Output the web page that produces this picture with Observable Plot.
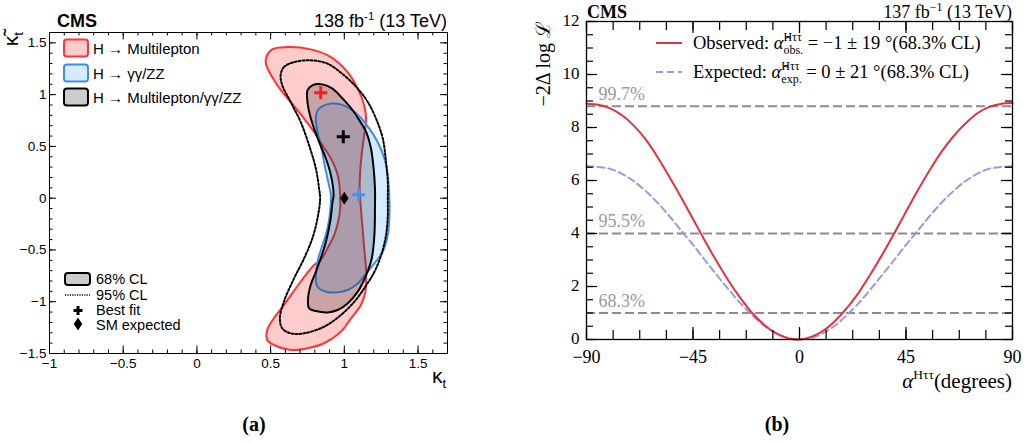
<!DOCTYPE html>
<html><head><meta charset="utf-8">
<script src="https://cdn.jsdelivr.net/npm/d3@7"></script>
<script src="https://cdn.jsdelivr.net/npm/@observablehq/plot@0.6"></script>
<style>
html,body{margin:0;padding:0;background:#fff;}
#wrap{position:relative;width:1025px;height:442px;overflow:hidden;background:#fff;}
#wrap > svg.panel{position:absolute;top:0;}
</style></head>
<body><div id="wrap"></div>
<script>
// ---------------- DATA: panel (a) ----------------
const multilepton68 = [[0.466,1.321],[0.511,1.437],[0.614,1.459],[0.772,1.437],[0.909,1.363],[1.022,1.218],[1.091,1.058],[1.135,0.897],[1.148,0.752],[1.135,0.608],[1.120,0.447],[1.109,0.286],[1.104,0.093],[1.120,-0.228],[1.135,-0.485],[1.148,-0.711],[1.143,-0.903],[1.113,-1.032],[1.046,-1.160],[0.977,-1.289],[0.863,-1.401],[0.727,-1.456],[0.636,-1.466],[0.522,-1.418],[0.477,-1.369],[0.477,-1.273],[0.522,-1.160],[0.590,-1.032],[0.704,-0.807],[0.795,-0.646],[0.840,-0.598],[0.886,-0.485],[0.931,-0.357],[0.958,-0.228],[0.972,-0.100],[0.972,-0.019],[0.967,0.125],[0.949,0.254],[0.909,0.383],[0.852,0.511],[0.795,0.640],[0.727,0.769],[0.636,0.929],[0.546,1.090]];
const gammaZZ68 = [[0.807,0.784],[0.829,0.865],[0.909,0.913],[0.977,0.906],[1.046,0.858],[1.113,0.774],[1.170,0.672],[1.226,0.543],[1.272,0.383],[1.295,0.222],[1.306,-0.019],[1.306,-0.164],[1.295,-0.357],[1.261,-0.518],[1.204,-0.630],[1.148,-0.726],[1.091,-0.823],[1.022,-0.887],[0.954,-0.909],[0.875,-0.903],[0.818,-0.855],[0.807,-0.759],[0.818,-0.614],[0.852,-0.453],[0.886,-0.292],[0.904,-0.132],[0.909,0.029],[0.891,0.157],[0.867,0.318],[0.845,0.479],[0.818,0.640]];
const combined68 = [[0.750,1.041],[0.783,1.090],[0.852,1.099],[0.920,1.058],[0.989,0.961],[1.057,0.849],[1.102,0.752],[1.148,0.640],[1.181,0.479],[1.199,0.286],[1.208,0.093],[1.208,-0.100],[1.204,-0.357],[1.186,-0.582],[1.148,-0.743],[1.091,-0.903],[1.022,-1.016],[0.954,-1.080],[0.886,-1.103],[0.807,-1.090],[0.761,-1.064],[0.754,-0.967],[0.772,-0.839],[0.807,-0.711],[0.840,-0.582],[0.875,-0.421],[0.904,-0.228],[0.920,-0.036],[0.927,0.029],[0.909,0.222],[0.875,0.383],[0.829,0.543],[0.795,0.672],[0.767,0.800],[0.750,0.929]];
const combined95 = [[0.568,1.186],[0.590,1.266],[0.659,1.314],[0.772,1.331],[0.886,1.299],[0.999,1.186],[1.091,1.058],[1.159,0.929],[1.215,0.769],[1.261,0.576],[1.283,0.350],[1.295,0.157],[1.295,-0.019],[1.295,-0.164],[1.283,-0.357],[1.250,-0.550],[1.204,-0.711],[1.135,-0.871],[1.068,-1.000],[0.977,-1.128],[0.863,-1.241],[0.727,-1.305],[0.636,-1.305],[0.579,-1.257],[0.563,-1.160],[0.590,-1.000],[0.659,-0.775],[0.727,-0.582],[0.783,-0.389],[0.818,-0.196],[0.836,-0.003],[0.829,0.093],[0.807,0.286],[0.761,0.511],[0.704,0.736],[0.636,0.929],[0.579,1.090]];
const bestFitKt  = [0.840, 1.097, 0.993];
const bestFitKtt = [1.018, 0.032, 0.593];
const bestFitColor = ["#ff1a1a", "#3399ff", "#000000"];
const smKt = [1.0], smKtt = [0.0];
const leftXTicks = [-1, -0.5, 0, 0.5, 1, 1.5];
const leftYTicks = [-1.5, -1, -0.5, 0, 0.5, 1, 1.5];
const leftLegend = ["H \u2192 Multilepton", "H \u2192 \u03b3\u03b3/ZZ", "H \u2192 Multilepton/\u03b3\u03b3/ZZ"];

// ---------------- DATA: panel (b) ----------------
const alphaDeg = [-90,-85,-80,-75,-70,-65,-60,-55,-50,-45,-40,-35,-30,-25,-20,-15,-10,-5,0,5,10,15,20,25,30,35,40,45,50,55,60,65,70,75,80,85,90];
const observedNLL = [8.90,8.86,8.72,8.46,8.07,7.55,6.89,6.14,5.36,4.55,3.73,2.95,2.22,1.57,1.00,0.56,0.24,0.05,0.00,0.10,0.33,0.70,1.18,1.77,2.46,3.21,4.00,4.82,5.63,6.39,7.08,7.66,8.14,8.53,8.77,8.89,8.92];
const expectedNLL = [6.54,6.51,6.44,6.25,5.97,5.60,5.16,4.66,4.11,3.57,3.00,2.44,1.89,1.37,0.92,0.53,0.24,0.06,0.00,0.06,0.24,0.53,0.92,1.37,1.89,2.44,3.00,3.57,4.11,4.66,5.16,5.60,5.97,6.25,6.44,6.51,6.54];
const clLevels = [1.0, 4.0, 8.8];
const clLabels = ["68.3%", "95.5%", "99.7%"];
const rightXTicks = [-90, -45, 0, 45, 90];
const rightYTicks = [0, 2, 4, 6, 8, 10, 12];

// ---------------- helpers ----------------
const SANS = "'Liberation Sans', Arial, Helvetica, sans-serif";
const SERIF = "'Liberation Serif', 'Times New Roman', serif";
const fmt = d => d < 0 ? "\u2212" + Math.abs(d) : String(d);

function tickMarks(xs, ys, W, H, xl, yl, sw) {
  return [
    Plot.ruleX(xs, {x: d => d, insetTop: H - xl, strokeWidth: sw, stroke: "#000"}),
    Plot.ruleX(xs, {x: d => d, insetBottom: H - xl, strokeWidth: sw, stroke: "#000"}),
    Plot.ruleY(ys, {y: d => d, insetRight: W - yl, strokeWidth: sw, stroke: "#000"}),
    Plot.ruleY(ys, {y: d => d, insetLeft: W - yl, strokeWidth: sw, stroke: "#000"})
  ];
}

const wrap = document.getElementById("wrap");

// ---------------- panel (a) ----------------
const La = {w: 460, h: 400, ml: 49, mt: 32, mr: 13, mb: 47};
const Wa = La.w - La.ml - La.mr, Ha = La.h - La.mt - La.mb;
const xMinA = d3.range(-1, 1.7001, 0.1), yMinA = d3.range(-1.5, 1.6001, 0.1);
const tallDiamond = {draw(ctx) { ctx.moveTo(0, -6.5); ctx.lineTo(4.2, 0); ctx.lineTo(0, 6.5); ctx.lineTo(-4.2, 0); ctx.closePath(); }};
const fits = bestFitKt.map((k, i) => ({kt: k, ktt: bestFitKtt[i], c: bestFitColor[i]}));
const sm = smKt.map((k, i) => ({kt: k, ktt: smKtt[i]}));

const plotA = Plot.plot({
  width: La.w, height: La.h, marginLeft: La.ml, marginTop: La.mt, marginRight: La.mr, marginBottom: La.mb,
  style: {fontFamily: SANS, fontSize: "13.5px", background: "transparent", overflow: "visible", color: "#000"},
  x: {domain: [-1, 1.7]},
  y: {domain: [-1.5, 1.6]},
  marks: [
    Plot.line(multilepton68, {x: d => d[0], y: d => d[1], curve: "catmull-rom-closed", fill: "#ff0000", fillOpacity: 0.2, stroke: "#ff3333", strokeWidth: 2}),
    Plot.line(gammaZZ68, {x: d => d[0], y: d => d[1], curve: "catmull-rom-closed", fill: "#3399ff", fillOpacity: 0.2, stroke: "#3b8fe8", strokeWidth: 2}),
    Plot.line(combined68, {x: d => d[0], y: d => d[1], curve: "catmull-rom-closed", fill: "#000", fillOpacity: 0.2, stroke: "#000", strokeWidth: 2}),
    Plot.line(combined95, {x: d => d[0], y: d => d[1], curve: "catmull-rom-closed", fill: "none", stroke: "#000", strokeWidth: 2, strokeDasharray: "2,2"}),
    Plot.dot(fits, {x: "kt", y: "ktt", symbol: "plus", r: 4.3, stroke: "c", strokeWidth: 3}),
    Plot.dot(sm, {x: "kt", y: "ktt", symbol: tallDiamond, fill: "#000", stroke: "none"}),
    ...tickMarks(xMinA, yMinA, Wa, Ha, 3.5, 3.5, 1),
    ...tickMarks(leftXTicks, leftYTicks, Wa, Ha, 7.5, 7, 1),
    Plot.axisX({ticks: leftXTicks, tickSize: 0, tickPadding: 5, tickFormat: fmt, label: null, fontSize: 13.5}),
    Plot.axisY({ticks: leftYTicks, tickSize: 0, tickPadding: 3, tickFormat: fmt, label: null, fontSize: 13.5}),
    Plot.frame({stroke: "#000", strokeWidth: 1})
  ]
});
plotA.classList.add("panel");
plotA.style.left = "0px";
wrap.appendChild(plotA);

// ---------------- panel (b) ----------------
const Lb = {x0: 530, w: 495, h: 400, ml: 56, mt: 21, mr: 13, mb: 61};
const Wb = Lb.w - Lb.ml - Lb.mr, Hb = Lb.h - Lb.mt - Lb.mb;
const xMinB = d3.range(-90, 90.001, 11.25), yMinB = d3.range(0, 12.001, 0.5);
const obs = alphaDeg.map((a, i) => ({a, v: observedNLL[i]}));
const exp = alphaDeg.map((a, i) => ({a, v: expectedNLL[i]}));
const cls = clLevels.map((v, i) => ({v, label: clLabels[i]}));

const plotB = Plot.plot({
  width: Lb.w, height: Lb.h, marginLeft: Lb.ml, marginTop: Lb.mt, marginRight: Lb.mr, marginBottom: Lb.mb,
  style: {fontFamily: SERIF, fontSize: "18px", background: "transparent", overflow: "visible", color: "#000"},
  x: {domain: [-90, 90]},
  y: {domain: [0, 12]},
  marks: [
    Plot.ruleY(cls, {y: "v", stroke: "#8c8c8c", strokeWidth: 2, strokeDasharray: "9,4"}),
    Plot.text(cls, {y: "v", text: "label", frameAnchor: "left", dx: 12, dy: -12, textAnchor: "start", fill: "#999", fontSize: 18, fontFamily: SERIF}),
    Plot.line(exp, {x: "a", y: "v", curve: "catmull-rom", stroke: "#9c99dc", strokeWidth: 2, strokeDasharray: "7,4"}),
    Plot.line(obs, {x: "a", y: "v", curve: "catmull-rom", stroke: "#e3323f", strokeWidth: 2}),
    ...tickMarks(xMinB, yMinB, Wb, Hb, 9, 7, 1.2),
    ...tickMarks(rightXTicks, rightYTicks, Wb, Hb, 12, 11, 1.2),
    Plot.axisX({ticks: rightXTicks, tickSize: 0, tickPadding: 11, tickFormat: fmt, label: null, fontSize: 18}),
    Plot.axisY({ticks: rightYTicks, tickSize: 0, tickPadding: 7, tickFormat: fmt, label: null, fontSize: 17, dy: -1}),
    Plot.frame({stroke: "#000", strokeWidth: 1.3})
  ]
});
plotB.classList.add("panel");
plotB.style.left = Lb.x0 + "px";
wrap.appendChild(plotB);

// ---------------- overlay: titles, legends, captions ----------------
const ov = d3.select(wrap).append("svg").attr("width", 1025).attr("height", 442)
  .style("position", "absolute").style("left", "0px").style("top", "0px").style("overflow", "visible");

function richText(x, y, runs, {anchor = "start", family = SANS, fill = "#000", rotate = 0} = {}) {
  const g = ov.append("g").attr("transform", `translate(${x},${y}) rotate(${rotate})`);
  let cx = 0, prevStart = 0;
  const els = [];
  for (const r of runs) {
    const el = g.append("text")
      .attr("font-family", r.family || family).attr("font-size", r.size)
      .attr("font-style", r.italic ? "italic" : null).attr("font-weight", r.bold ? "bold" : null)
      .attr("fill", r.fill || fill).attr("y", r.dy || 0).style("white-space", "pre").text(r.t);
    const w = el.node().getComputedTextLength();
    let sx;
    if (r.stack) { sx = prevStart; cx = Math.max(cx, sx + w); }
    else { sx = cx; prevStart = sx; cx = sx + w; }
    el.attr("x", sx);
    els.push(el);
  }
  const off = anchor === "end" ? -cx : anchor === "middle" ? -cx / 2 : 0;
  els.forEach(e => e.attr("x", +e.attr("x") + off));
  return g;
}

// panel (a) titles
richText(57, 27, [{t: "CMS", size: 18, bold: true}]);
richText(447, 27, [{t: "138 fb", size: 18}, {t: "-1", size: 11.5, dy: -7}, {t: " (13 TeV)", size: 18}], {anchor: "end"});
richText(432, 383, [{t: "\u03ba", size: 21}, {t: "t", size: 13, dy: 5}]);
richText(18, 32, [{t: "\u03ba\u0303", size: 21}, {t: "t", size: 13, dy: 5}], {anchor: "end", rotate: -90});

// panel (a) legend (top)
const legStyles = [
  {fill: "#ffcccc", stroke: "#ff3333"},
  {fill: "#d6ebff", stroke: "#3b8fe8"},
  {fill: "#cccccc", stroke: "#000"}
];
[48, 73, 97].forEach((cy, i) => {
  ov.append("rect").attr("x", 64).attr("y", cy - 8.5).attr("width", 24).attr("height", 17).attr("rx", 3)
    .attr("fill", legStyles[i].fill).attr("stroke", legStyles[i].stroke).attr("stroke-width", 2);
  richText(93, cy + 5.5, [{t: leftLegend[i], size: 15}]);
});
// panel (a) legend (bottom)
ov.append("rect").attr("x", 65).attr("y", 273).attr("width", 25).attr("height", 12).attr("rx", 3)
  .attr("fill", "#cccccc").attr("stroke", "#000").attr("stroke-width", 2);
richText(96, 284, [{t: "68% CL", size: 14.5}]);
ov.append("line").attr("x1", 65).attr("x2", 90).attr("y1", 295).attr("y2", 295)
  .attr("stroke", "#000").attr("stroke-width", 1.5).attr("stroke-dasharray", "1.2,1.2");
richText(96, 300, [{t: "95% CL", size: 14.5}]);
ov.append("path").attr("d", "M73.5,310.5h9M78,306v9").attr("stroke", "#000").attr("stroke-width", 3);
richText(96, 315, [{t: "Best fit", size: 14.5}]);
ov.append("path").attr("d", "M78,317.5L82.2,324L78,330.5L73.8,324Z").attr("fill", "#000");
richText(96, 329.5, [{t: "SM expected", size: 14.5}]);

// panel (b) titles
richText(587, 18, [{t: "CMS", size: 18, bold: true, family: SERIF}]);
richText(1012, 18, [{t: "137 fb", size: 18}, {t: "\u22121", size: 12, dy: -7}, {t: " (13 TeV)", size: 18}], {anchor: "end", family: SERIF});
richText(550, 21, [{t: "\u22122\u0394 log \u2112", size: 20}], {anchor: "end", rotate: -90, family: SERIF});
richText(1012, 388, [{t: "\u03b1", size: 21, italic: true}, {t: "H\u03c4\u03c4", size: 13.5, dy: -9}, {t: "(degrees)", size: 21}], {anchor: "end", family: SERIF});

// panel (b) legend
ov.append("line").attr("x1", 656).attr("x2", 682).attr("y1", 43).attr("y2", 43).attr("stroke", "#e3323f").attr("stroke-width", 2);
richText(693, 49, [
  {t: "Observed: ", size: 18.5}, {t: "\u03b1\u0302", size: 18.5, italic: true},
  {t: "H\u03c4\u03c4", size: 12, dy: -8}, {t: "obs.", size: 12, dy: 5, stack: true},
  {t: " = \u22121 \u00b1 19 \u00b0(68.3% CL)", size: 18.5}
], {family: SERIF});
ov.append("line").attr("x1", 656).attr("x2", 682).attr("y1", 72).attr("y2", 72).attr("stroke", "#9c99dc").attr("stroke-width", 2).attr("stroke-dasharray", "7,4");
richText(693, 78, [
  {t: "Expected: ", size: 18.5}, {t: "\u03b1\u0302", size: 18.5, italic: true},
  {t: "H\u03c4\u03c4", size: 12, dy: -8}, {t: "exp.", size: 12, dy: 5, stack: true},
  {t: " = 0 \u00b1 21 \u00b0(68.3% CL)", size: 18.5}
], {family: SERIF});

// captions
richText(254, 431, [{t: "(a)", size: 20, bold: true}], {anchor: "middle", family: SERIF});
richText(777, 431, [{t: "(b)", size: 20, bold: true}], {anchor: "middle", family: SERIF});
</script>
</body></html>
